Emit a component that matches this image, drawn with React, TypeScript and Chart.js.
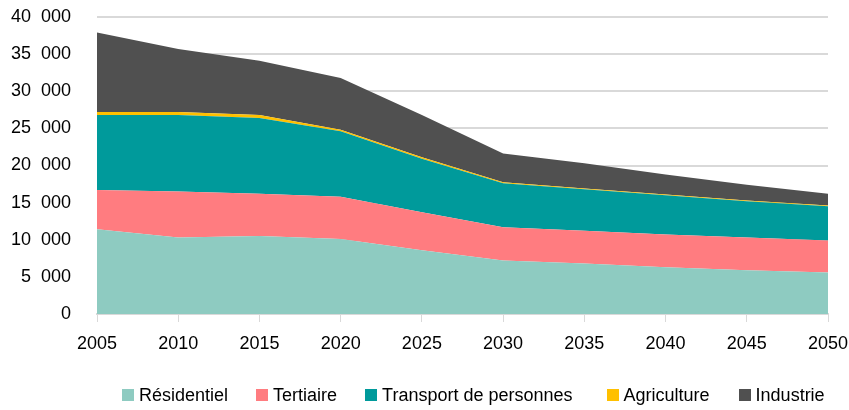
import { useEffect, useRef } from 'react';
import { Chart, registerables } from 'chart.js';

Chart.register(...registerables);

const years = ['2005', '2010', '2015', '2020', '2025', '2030', '2035', '2040', '2045', '2050'];
const residentiel = [11400, 10300, 10500, 10100, 8600, 7200, 6800, 6300, 5900, 5600];
const tertiaire = [5300, 6200, 5700, 5700, 5100, 4500, 4400, 4400, 4400, 4300];
const transport = [10100, 10300, 10200, 8800, 7200, 5900, 5600, 5300, 4900, 4600];
const agriculture = [400, 400, 400, 200, 200, 150, 100, 100, 100, 100];
const industrie = [10700, 8500, 7300, 7000, 5700, 3850, 3400, 2700, 2100, 1600];

const seriesNames = ['Résidentiel', 'Tertiaire', 'Transport de personnes', 'Agriculture', 'Industrie'];
const seriesColors = ['#8ecbc1', '#ff7c80', '#009a9b', '#ffc000', '#505050'];
const seriesData = [residentiel, tertiaire, transport, agriculture, industrie];
const legendGaps = [0, 28, 28, 34, 29];

const FONT = "'Liberation Sans Narrow', 'Arial Narrow', 'Liberation Sans', Arial, sans-serif";

function fmt(v: number): string {
  const s = String(Math.round(v));
  if (s.length <= 3) return s;
  return s.slice(0, s.length - 3) + '  ' + s.slice(-3);
}

export default function App() {
  const ref = useRef<HTMLCanvasElement>(null);
  useEffect(() => {
    document.body.style.margin = '0';
    const chart = new Chart(ref.current!, {
      type: 'line',
      data: {
        labels: years,
        datasets: seriesData.map((d, i) => ({
          label: seriesNames[i],
          data: d,
          backgroundColor: seriesColors[i],
          borderColor: seriesColors[i],
          borderWidth: 0,
          pointRadius: 0,
          fill: i === 0 ? 'origin' : '-1',
          tension: 0,
        })),
      },
      options: {
        responsive: false,
        animation: false,
        layout: { padding: { top: 17, right: 21, left: 0, bottom: 0 } },
        plugins: { legend: { display: false }, tooltip: { enabled: false } },
        scales: {
          x: {
            offset: false,
            grid: { drawOnChartArea: false, drawTicks: true, tickLength: 8, color: '#d9d9d9', lineWidth: 1 },
            border: { display: true, color: '#d9d9d9', width: 2 },
            ticks: { color: '#000', font: { family: FONT, size: 18 }, padding: 11, maxRotation: 0, autoSkip: false },
            afterFit: (a: any) => {
              a.height = 96;
              a.paddingLeft = 0;
              a.paddingRight = 0;
            },
          },
          y: {
            stacked: true,
            min: 0,
            max: 40000,
            grid: { color: '#d9d9d9', lineWidth: 2, drawTicks: true, tickLength: 23, tickColor: 'rgba(0,0,0,0)' },
            border: { display: false },
            ticks: {
              stepSize: 5000,
              color: '#000',
              font: { family: FONT, size: 18 },
              padding: 3,
              callback: (v: any) => fmt(Number(v)),
            },
            afterFit: (a: any) => {
              a.width = 97;
              a.paddingTop = 0;
              a.paddingBottom = 0;
            },
          },
        },
      },
    });
    return () => chart.destroy();
  }, []);

  return (
    <div style={{ position: 'relative', width: 849, height: 410, overflow: 'hidden' }}>
      <canvas ref={ref} width={849} height={410} style={{ display: 'block' }} />
      <div
        style={{
          position: 'absolute',
          left: 122,
          top: 383,
          height: 24,
          display: 'flex',
          alignItems: 'center',
          fontFamily: FONT,
          fontSize: 18,
          color: '#000',
          whiteSpace: 'nowrap',
        }}
      >
        {seriesNames.map((n, i) => (
          <div key={n} style={{ display: 'flex', alignItems: 'center', marginLeft: legendGaps[i] }}>
            <span style={{ display: 'inline-block', width: 12, height: 12, background: seriesColors[i], marginRight: 5 }} />
            <span>{n}</span>
          </div>
        ))}
      </div>
    </div>
  );
}
